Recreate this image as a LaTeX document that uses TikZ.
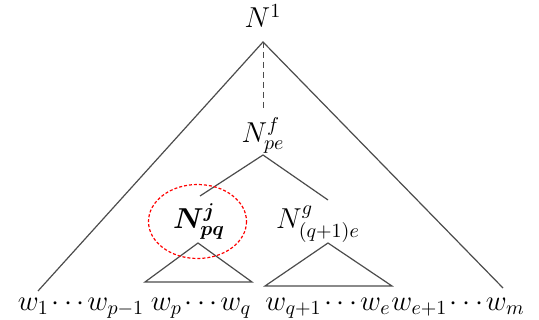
\documentclass[tikz,border=0pt]{standalone}
\usepackage{amsmath}
\usepackage{bm}
\usepackage{xcolor}
\usetikzlibrary{positioning, calc}

\newcommand{\wdots}{\mkern1.5mu{\cdots}\mkern1.5mu}

\begin{document}
\begin{tikzpicture}[x=0.5pt, y=-0.5pt,
  lbl/.style={font=\Large, inner sep=0pt, anchor=base},
  branch/.style={draw=black!70, line width=0.6pt},
  focus/.style={draw=red, dashed, line width=0.6pt, dash pattern=on 1.5pt off 1pt}]
  \useasboundingbox (0,0) rectangle (539,320);

  % --- Labels of the tree ---
  \node[lbl] (root) at (263,28) {$N^1$};
  \node[lbl] (npe)  at (263,142) {$N^{f}_{pe}$};
  \node[lbl] (npq)  at (199,228) {$\bm{N^{j}_{pq}}$};
  \node[lbl] (nqe)  at (318,228) {$N^{g}_{(q+1)e}$};

  % --- Words along the bottom ---
  \node[lbl] (wl) at (81,310)  {$w_1\wdots w_{p-1}$};
  \node[lbl] (wp) at (201,310) {$w_p\wdots w_q$};
  \node[lbl] (wq) at (328,310) {$w_{q+1}\wdots w_e$};
  \node[lbl] (wr) at (458,310) {$w_{e+1}\wdots w_m$};

  % --- Corner points ---
  \coordinate (top)  at (263,42);
  \coordinate (fork) at (263,155);
  \coordinate (bl)   at (38,291);
  \coordinate (br)   at (503,288);
  \coordinate (jtop) at (200,196);
  \coordinate (gtop) at (328,200);

  % Outer triangle and dotted path
  \draw[branch] (bl) -- (top) -- (br);
  \draw[branch, densely dashed, line width=0.5pt] (top) -- (263,108);

  % Split below N_pe
  \draw[branch] (jtop) -- (fork) -- (gtop);

  % Subtrees
  \draw[branch] (145,282) -- (198,243) -- (252,282) -- cycle;
  \draw[branch] (265,286) -- (328,243) -- (392,286) -- cycle;

  % Highlight round N_pq
  \draw[focus] (197.5,221.5) ellipse (49 and 37);
\end{tikzpicture}
\end{document}
